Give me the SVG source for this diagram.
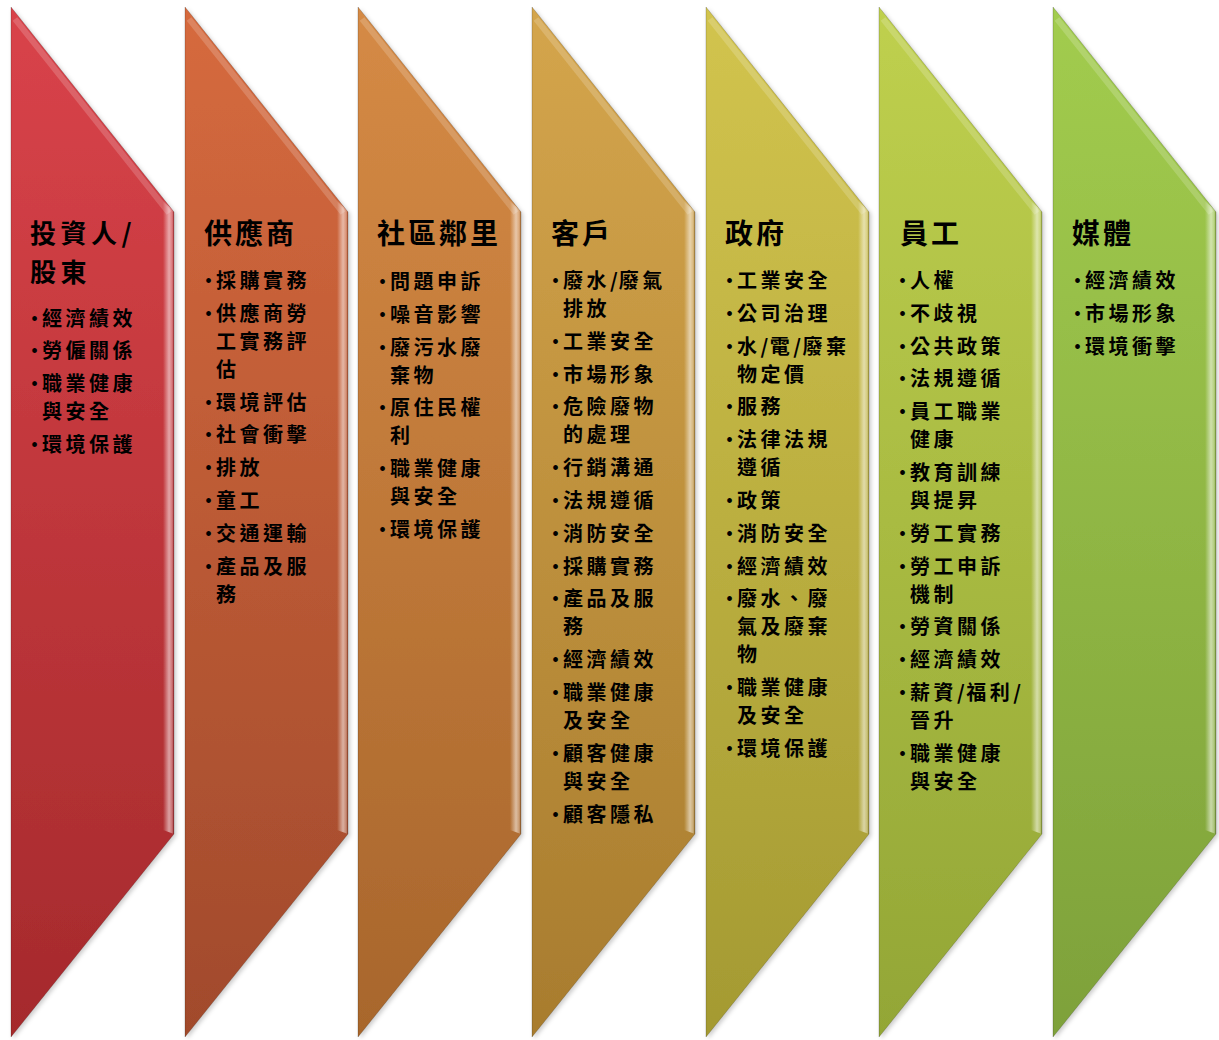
<svg xmlns="http://www.w3.org/2000/svg" width="1219" height="1040" viewBox="0 0 1219 1040">
<defs>
<style>
.h{font-family:"Noto Sans CJK TC","Noto Sans CJK SC",sans-serif;font-weight:700;font-size:28px;letter-spacing:3px;fill:#000}
.h2{font-family:"Noto Sans CJK TC","Noto Sans CJK SC",sans-serif;font-weight:700;font-size:26px;letter-spacing:4.5px;fill:#000}
.t{font-family:"Noto Sans CJK TC","Noto Sans CJK SC",sans-serif;font-weight:700;font-size:20px;letter-spacing:3.5px;fill:#000}
.b{font-family:"Liberation Serif",serif;font-size:20px;fill:#000}
.edge{stroke:#000;stroke-opacity:0.18;stroke-width:1}
.hl{fill:none;stroke:#fff;stroke-opacity:0.18;stroke-width:6}
</style>
<path id="shape" d="M0,0 L163,205 L163,827 L0,1030 Z"/>
<path id="bevel" d="M152,193 L163,205 L163,827 L152,823 Z"/>
<linearGradient id="bv" x1="0" y1="0" x2="1" y2="0">
<stop offset="0" stop-color="#fff" stop-opacity="0"/>
<stop offset="0.55" stop-color="#fff" stop-opacity="0.55"/>
<stop offset="0.85" stop-color="#fff" stop-opacity="0.3"/>
<stop offset="1" stop-color="#000" stop-opacity="0.15"/>
</linearGradient>
<linearGradient id="g1" x1="0" y1="0" x2="0" y2="1"><stop offset="0" stop-color="#d9434a"/><stop offset="1" stop-color="#a52a2c"/></linearGradient>
<linearGradient id="g2" x1="0" y1="0" x2="0" y2="1"><stop offset="0" stop-color="#d66a3e"/><stop offset="1" stop-color="#a14a2c"/></linearGradient>
<linearGradient id="g3" x1="0" y1="0" x2="0" y2="1"><stop offset="0" stop-color="#d58a45"/><stop offset="1" stop-color="#a8662c"/></linearGradient>
<linearGradient id="g4" x1="0" y1="0" x2="0" y2="1"><stop offset="0" stop-color="#d4a54c"/><stop offset="1" stop-color="#a87c2e"/></linearGradient>
<linearGradient id="g5" x1="0" y1="0" x2="0" y2="1"><stop offset="0" stop-color="#d2c44e"/><stop offset="1" stop-color="#a49a32"/></linearGradient>
<linearGradient id="g6" x1="0" y1="0" x2="0" y2="1"><stop offset="0" stop-color="#bfd04e"/><stop offset="1" stop-color="#93a636"/></linearGradient>
<linearGradient id="g7" x1="0" y1="0" x2="0" y2="1"><stop offset="0" stop-color="#a2cc4e"/><stop offset="1" stop-color="#7ea13a"/></linearGradient>
<filter id="sh" x="-5%" y="-2%" width="115%" height="106%"><feDropShadow dx="2" dy="2" stdDeviation="2" flood-color="#000" flood-opacity="0.2"/></filter>
</defs>
<rect width="1219" height="1040" fill="#fff"/>

<g id="node-investors">
<g transform="translate(11,7)" filter="url(#sh)"><use href="#shape" fill="url(#g1)" class="edge"/><use href="#bevel" fill="url(#bv)"/><path class="hl" d="M4,12 L158,206"/></g>
<text class="h2" x="30" y="243">投資人/</text>
<text class="h2" x="30" y="281.5">股東</text>
<text class="b" x="31" y="325.5">•</text><text class="t" x="42" y="325.5">經濟績效</text>
<text class="b" x="31" y="358.3">•</text><text class="t" x="42" y="358.3">勞僱關係</text>
<text class="b" x="31" y="391.1">•</text><text class="t" x="42" y="391.1">職業健康</text><text class="t" x="42" y="419.1">與安全</text>
<text class="b" x="31" y="451.9">•</text><text class="t" x="42" y="451.9">環境保護</text>
</g>

<g id="node-suppliers">
<g transform="translate(185,7)" filter="url(#sh)"><use href="#shape" fill="url(#g2)" class="edge"/><use href="#bevel" fill="url(#bv)"/><path class="hl" d="M4,12 L158,206"/></g>
<text class="h" x="204" y="244">供應商</text>
<text class="b" x="205" y="288">•</text><text class="t" x="216" y="288">採購實務</text>
<text class="b" x="205" y="320.8">•</text><text class="t" x="216" y="320.8">供應商勞</text><text class="t" x="216" y="348.8">工實務評</text><text class="t" x="216" y="376.8">估</text>
<text class="b" x="205" y="409.6">•</text><text class="t" x="216" y="409.6">環境評估</text>
<text class="b" x="205" y="442.4">•</text><text class="t" x="216" y="442.4">社會衝擊</text>
<text class="b" x="205" y="475.2">•</text><text class="t" x="216" y="475.2">排放</text>
<text class="b" x="205" y="508">•</text><text class="t" x="216" y="508">童工</text>
<text class="b" x="205" y="540.8">•</text><text class="t" x="216" y="540.8">交通運輸</text>
<text class="b" x="205" y="573.6">•</text><text class="t" x="216" y="573.6">產品及服</text><text class="t" x="216" y="601.6">務</text>
</g>

<g id="node-community">
<g transform="translate(358,7)" filter="url(#sh)"><use href="#shape" fill="url(#g3)" class="edge"/><use href="#bevel" fill="url(#bv)"/><path class="hl" d="M4,12 L158,206"/></g>
<text class="h" x="377" y="244">社區鄰里</text>
<text class="b" x="379" y="289">•</text><text class="t" x="390" y="289">問題申訴</text>
<text class="b" x="379" y="321.8">•</text><text class="t" x="390" y="321.8">噪音影響</text>
<text class="b" x="379" y="354.6">•</text><text class="t" x="390" y="354.6">廢污水廢</text><text class="t" x="390" y="382.6">棄物</text>
<text class="b" x="379" y="415.4">•</text><text class="t" x="390" y="415.4">原住民權</text><text class="t" x="390" y="443.4">利</text>
<text class="b" x="379" y="476.2">•</text><text class="t" x="390" y="476.2">職業健康</text><text class="t" x="390" y="504.2">與安全</text>
<text class="b" x="379" y="537">•</text><text class="t" x="390" y="537">環境保護</text>
</g>

<g id="node-customers">
<g transform="translate(532,7)" filter="url(#sh)"><use href="#shape" fill="url(#g4)" class="edge"/><use href="#bevel" fill="url(#bv)"/><path class="hl" d="M4,12 L158,206"/></g>
<text class="h" x="551" y="244">客戶</text>
<text class="b" x="552" y="288">•</text><text class="t" x="563" y="288">廢水<tspan letter-spacing="1">/</tspan>廢氣</text><text class="t" x="563" y="316">排放</text>
<text class="b" x="552" y="348.8">•</text><text class="t" x="563" y="348.8">工業安全</text>
<text class="b" x="552" y="381.6">•</text><text class="t" x="563" y="381.6">市場形象</text>
<text class="b" x="552" y="414.4">•</text><text class="t" x="563" y="414.4">危險廢物</text><text class="t" x="563" y="442.4">的處理</text>
<text class="b" x="552" y="475.2">•</text><text class="t" x="563" y="475.2">行銷溝通</text>
<text class="b" x="552" y="508">•</text><text class="t" x="563" y="508">法規遵循</text>
<text class="b" x="552" y="540.8">•</text><text class="t" x="563" y="540.8">消防安全</text>
<text class="b" x="552" y="573.6">•</text><text class="t" x="563" y="573.6">採購實務</text>
<text class="b" x="552" y="606.4">•</text><text class="t" x="563" y="606.4">產品及服</text><text class="t" x="563" y="634.4">務</text>
<text class="b" x="552" y="667.2">•</text><text class="t" x="563" y="667.2">經濟績效</text>
<text class="b" x="552" y="700">•</text><text class="t" x="563" y="700">職業健康</text><text class="t" x="563" y="728">及安全</text>
<text class="b" x="552" y="760.8">•</text><text class="t" x="563" y="760.8">顧客健康</text><text class="t" x="563" y="788.8">與安全</text>
<text class="b" x="552" y="821.6">•</text><text class="t" x="563" y="821.6">顧客隱私</text>
</g>

<g id="node-government">
<g transform="translate(706,7)" filter="url(#sh)"><use href="#shape" fill="url(#g5)" class="edge"/><use href="#bevel" fill="url(#bv)"/><path class="hl" d="M4,12 L158,206"/></g>
<text class="h" x="725" y="244">政府</text>
<text class="b" x="726" y="288">•</text><text class="t" x="737" y="288">工業安全</text>
<text class="b" x="726" y="320.8">•</text><text class="t" x="737" y="320.8">公司治理</text>
<text class="b" x="726" y="353.6">•</text><text class="t" x="737" y="353.6">水<tspan letter-spacing="1.5">/</tspan>電<tspan letter-spacing="1.5">/</tspan>廢棄</text><text class="t" x="737" y="381.6">物定價</text>
<text class="b" x="726" y="414.4">•</text><text class="t" x="737" y="414.4">服務</text>
<text class="b" x="726" y="447.2">•</text><text class="t" x="737" y="447.2">法律法規</text><text class="t" x="737" y="475.2">遵循</text>
<text class="b" x="726" y="508">•</text><text class="t" x="737" y="508">政策</text>
<text class="b" x="726" y="540.8">•</text><text class="t" x="737" y="540.8">消防安全</text>
<text class="b" x="726" y="573.6">•</text><text class="t" x="737" y="573.6">經濟績效</text>
<text class="b" x="726" y="606.4">•</text><text class="t" x="737" y="606.4">廢水、廢</text><text class="t" x="737" y="634.4">氣及廢棄</text><text class="t" x="737" y="662.4">物</text>
<text class="b" x="726" y="695.2">•</text><text class="t" x="737" y="695.2">職業健康</text><text class="t" x="737" y="723.2">及安全</text>
<text class="b" x="726" y="756">•</text><text class="t" x="737" y="756">環境保護</text>
</g>

<g id="node-employees">
<g transform="translate(879,7)" filter="url(#sh)"><use href="#shape" fill="url(#g6)" class="edge"/><use href="#bevel" fill="url(#bv)"/><path class="hl" d="M4,12 L158,206"/></g>
<text class="h" x="900" y="244">員工</text>
<text class="b" x="899" y="288">•</text><text class="t" x="910" y="288">人權</text>
<text class="b" x="899" y="320.8">•</text><text class="t" x="910" y="320.8">不歧視</text>
<text class="b" x="899" y="353.6">•</text><text class="t" x="910" y="353.6">公共政策</text>
<text class="b" x="899" y="386.4">•</text><text class="t" x="910" y="386.4">法規遵循</text>
<text class="b" x="899" y="419.2">•</text><text class="t" x="910" y="419.2">員工職業</text><text class="t" x="910" y="447.2">健康</text>
<text class="b" x="899" y="480">•</text><text class="t" x="910" y="480">教育訓練</text><text class="t" x="910" y="508">與提昇</text>
<text class="b" x="899" y="540.8">•</text><text class="t" x="910" y="540.8">勞工實務</text>
<text class="b" x="899" y="573.6">•</text><text class="t" x="910" y="573.6">勞工申訴</text><text class="t" x="910" y="601.6">機制</text>
<text class="b" x="899" y="634.4">•</text><text class="t" x="910" y="634.4">勞資關係</text>
<text class="b" x="899" y="667.2">•</text><text class="t" x="910" y="667.2">經濟績效</text>
<text class="b" x="899" y="700">•</text><text class="t" x="910" y="700">薪資<tspan letter-spacing="1.5">/</tspan>福利/</text><text class="t" x="910" y="728">晉升</text>
<text class="b" x="899" y="760.8">•</text><text class="t" x="910" y="760.8">職業健康</text><text class="t" x="910" y="788.8">與安全</text>
</g>

<g id="node-media">
<g transform="translate(1053,7)" filter="url(#sh)"><use href="#shape" fill="url(#g7)" class="edge"/><use href="#bevel" fill="url(#bv)"/><path class="hl" d="M4,12 L158,206"/></g>
<text class="h" x="1072" y="244">媒體</text>
<text class="b" x="1074" y="288">•</text><text class="t" x="1085" y="288">經濟績效</text>
<text class="b" x="1074" y="320.8">•</text><text class="t" x="1085" y="320.8">市場形象</text>
<text class="b" x="1074" y="353.6">•</text><text class="t" x="1085" y="353.6">環境衝擊</text>
</g>
</svg>
